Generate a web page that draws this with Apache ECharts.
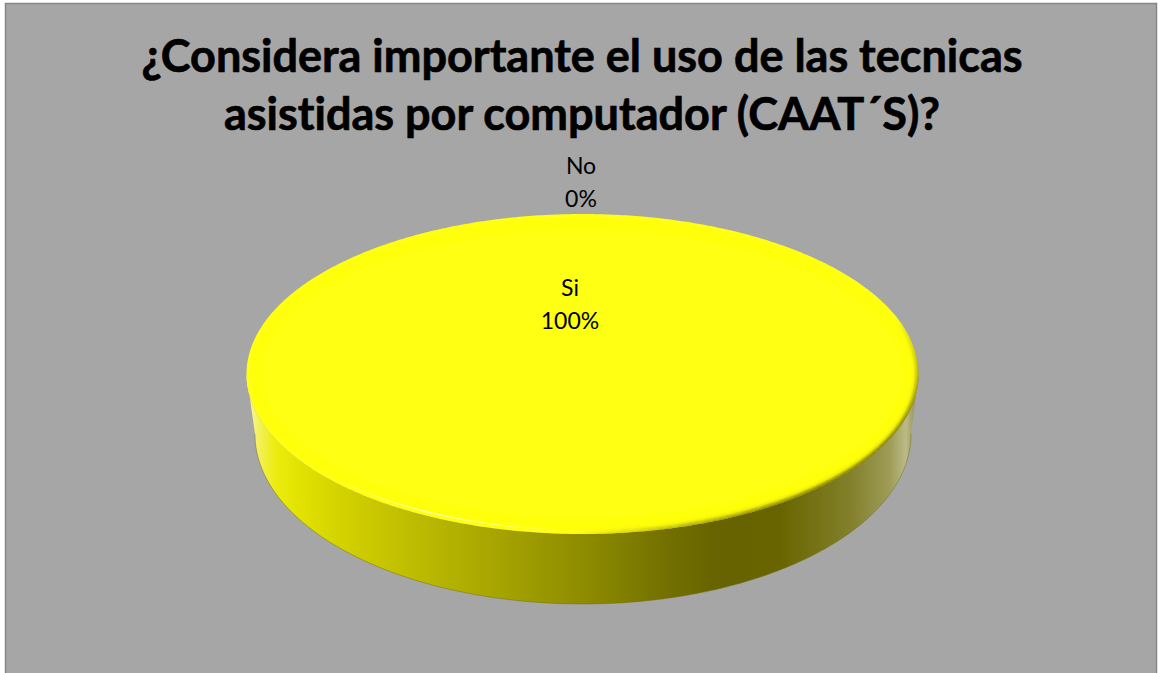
<!DOCTYPE html>
<html>
<head>
<meta charset="utf-8">
<style>
html,body{margin:0;padding:0;background:#fff}
#chart{width:1158px;height:673px}
#chart text{font-variant-ligatures:none}
</style>
<script src="https://cdn.jsdelivr.net/npm/echarts@6/dist/echarts.min.js"></script>
</head>
<body>
<div id="chart"></div>
<script>
const chartTitle = '¿Considera importante el uso de las tecnicas\nasistidas por computador (CAAT´S)?';
const categories = ['Si', 'No'];
const responses = [100, 0];

// Disc geometry of the tilted pie
const top_ = { cx: 582.5, cy: 374, rx: 336, ry: 160 };
const base = { cx: 583, cy: 434, rx: 328, ry: 170 };
const labelAnchors = [{ x: 570, y: 303 }, { x: 581, y: 181 }];

const total = responses.reduce((a, b) => a + b, 0);
const TAU = Math.PI * 2;

function arcPoints(e, from, to, inset) {
  const steps = Math.max(2, Math.ceil(Math.abs(to - from) / 0.01));
  const pts = [];
  for (let i = 0; i <= steps; i++) {
    const a = from + (to - from) * i / steps;
    pts.push([e.cx + (e.rx - (inset || 0)) * Math.cos(a), e.cy + (e.ry - (inset || 0)) * Math.sin(a)]);
  }
  return pts;
}

// Side wall lighting runs left to right across the pie
function wallGradient() {
  const stops = [[247, '#fbf8b0'], [258, '#f3f160'], [275, '#ecec10'], [300, '#e2e200'], [350, '#d0cf00'],
    [430, '#b9b700'], [580, '#8f8d00'], [670, '#726f00'], [720, '#666300'], [780, '#686500'], [850, '#82802a'],
    [890, '#9e9c58'], [906, '#bcbb88'], [918, '#8c8a48']];
  return {
    type: 'linear', global: true, x: 247, y: 0, x2: 918, y2: 0,
    colorStops: stops.map(s => ({ offset: (s[0] - 247) / 671, color: s[1] }))
  };
}

function shadeGradient(alpha) {
  return {
    type: 'linear', global: true, x: 500, y: 400, x2: 700, y2: 700,
    colorStops: [
      { offset: 0.42, color: 'rgba(90,88,0,0)' },
      { offset: 0.68, color: 'rgba(90,88,0,' + alpha + ')' },
      { offset: 1, color: 'rgba(90,88,0,' + alpha + ')' }
    ]
  };
}

function renderSlice(params, api) {
  const i = params.dataIndex;
  const before = responses.slice(0, i).reduce((a, b) => a + b, 0);
  const start = -Math.PI / 2 + TAU * before / total;
  const end = start + TAU * api.value(0) / total;
  const children = [];

  if (end > start) {
    // Visible part of the wall: whatever the slice sweeps over the front half
    const ranges = [[start, end], [start - TAU, end - TAU]];
    ranges.forEach(([s, e]) => {
      const a = Math.max(s, 0), b = Math.min(e, Math.PI);
      if (b > a) {
        const wall = arcPoints(top_, a, b).concat(arcPoints(base, b, a));
        children.push({ type: 'polygon', shape: { points: wall }, style: { fill: wallGradient() } });
        children.push({ type: 'polyline', shape: { points: arcPoints(base, b, a) },
          style: { fill: 'none', stroke: 'rgba(110,108,0,0.45)', lineWidth: 1 } });
      }
    });

    const face = arcPoints(top_, start, end);
    if (end - start < TAU - 1e-6) face.push([top_.cx, top_.cy]);
    children.push({ type: 'polygon', shape: { points: face }, style: { fill: '#ffff14' } });

    // Soft bevel along the rim of the top face
    for (let k = 0; k < 8; k++) {
      const ring = arcPoints(top_, start, end, k * 1.05 + 0.4);
      children.push({ type: 'polyline', shape: { points: ring },
        style: { fill: 'none', stroke: shadeGradient((0.6 * Math.pow(1 - k / 8, 2)).toFixed(3)), lineWidth: 1.4 } });
    }
    children.push({ type: 'polyline', shape: { points: arcPoints(top_, start, end, 10) },
      style: { fill: 'none', stroke: 'rgba(255,255,0,0.45)', lineWidth: 12 } });
    children.push({ type: 'polyline', shape: { points: arcPoints(top_, Math.PI * 0.52, Math.PI * 0.86, 4) },
      style: { fill: 'none', lineWidth: 1.4, stroke: {
        type: 'linear', global: true, x: 330, y: 0, x2: 570, y2: 0,
        colorStops: [
          { offset: 0, color: 'rgba(255,255,190,0)' },
          { offset: 0.42, color: 'rgba(255,255,190,0.85)' },
          { offset: 1, color: 'rgba(255,255,190,0)' }
        ] } } });
  }

  const share = Math.round(api.value(0) / total * 100);
  children.push({
    type: 'text',
    style: {
      x: labelAnchors[i].x, y: labelAnchors[i].y,
      text: categories[i] + '\n' + share + '%',
      fill: '#000', fontFamily: 'Lato', fontSize: 23, lineHeight: 33,
      align: 'center', verticalAlign: 'middle'
    }
  });
  return { type: 'group', children };
}

const chart = echarts.init(document.getElementById('chart'), null, { renderer: 'svg' });
chart.setOption({
  animation: false,
  backgroundColor: '#ffffff',
  title: {
    text: chartTitle,
    left: 577, top: 21, textAlign: 'center',
    textStyle: {
      fontFamily: 'Lato', fontWeight: 'bold', fontSize: 45, lineHeight: 58, color: '#000',
      textBorderColor: '#000', textBorderWidth: 0.7
    }
  },
  graphic: [{
    type: 'rect', z: -10, silent: true,
    shape: { x: 5.5, y: 3.5, width: 1151, height: 690 },
    style: { fill: '#a6a6a6', stroke: '#868686', lineWidth: 1.5 }
  }],
  series: [{
    type: 'custom',
    coordinateSystem: 'none',
    renderItem: renderSlice,
    encode: { value: 0 },
    data: responses.map((v, i) => ({ name: categories[i], value: [v] }))
  }]
});
</script>
</body>
</html>
